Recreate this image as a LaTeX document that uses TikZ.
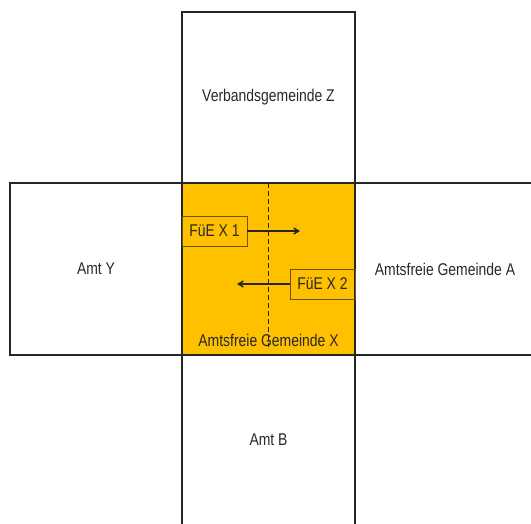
\documentclass[tikz,border=0pt]{standalone}
\usepackage{fontspec}
\setmainfont{Liberation Sans}[FakeStretch=0.82]
\usetikzlibrary{arrows.meta,positioning}
\definecolor{amtgold}{RGB}{255,192,0}
\definecolor{rahmen}{RGB}{38,38,38}
\definecolor{schrift}{RGB}{40,40,40}

\begin{document}
\begin{tikzpicture}[x=1pt, y=-1pt, >={Straight Barb[length=5pt,width=6pt]},
    gebiet/.style={draw=rahmen, line width=1.5pt, inner sep=0pt, outer sep=0pt, text=schrift, font=\fontsize{17}{19}\selectfont},
    fuebox/.style={draw=rahmen!70!amtgold, line width=1pt, inner sep=0pt, outer sep=0pt, minimum width=65pt, minimum height=30pt, text=schrift, font=\fontsize{17}{19}\selectfont}]
    \clip (0,0) rectangle (531,523);

    % mittleres Gebiet und Nachbarn
    \node[gebiet, fill=amtgold, minimum width=173pt, minimum height=172pt] (gemX) at (268.5,269) {};
    \node[gebiet, minimum width=173pt, minimum height=171pt, above=0pt of gemX] (verbZ) {Verbandsgemeinde Z};
    \node[gebiet, minimum width=172pt, minimum height=172pt, left=0pt of gemX] (amtY) {Amt Y};
    \node[gebiet, minimum width=180pt, minimum height=172pt, right=0pt of gemX] (gemA) {Amtsfreie Gemeinde A};
    \node[gebiet, minimum width=173pt, minimum height=170pt, below=0pt of gemX] (amtB) {Amt B};
    \node[text=schrift, font=\fontsize{17}{19}\selectfont] (labX) at (268.5,340) {Amtsfreie Gemeinde X};

    % Trennlinie
    \coordinate (strichO) at (gemX.north);
    \coordinate (strichU) at (268.5,347);
    \draw[rahmen, line width=1.3pt, dash pattern=on 5pt off 3pt] (strichO) -- (strichU);

    % Fuehrungseinheiten
    \node[fuebox, anchor=west] (fue1) at ([yshift=38pt]gemX.west) {FüE X 1};
    \node[fuebox, anchor=north east] (fue2) at (gemX.east) {FüE X 2};
    \coordinate (ziel1) at (300,231);
    \coordinate (ziel2) at (237,284);
    \draw[->, rahmen, line width=1.4pt] (fue1) -- (ziel1);
    \draw[->, rahmen, line width=1.4pt] (fue2) -- (ziel2);
\end{tikzpicture}
\end{document}
